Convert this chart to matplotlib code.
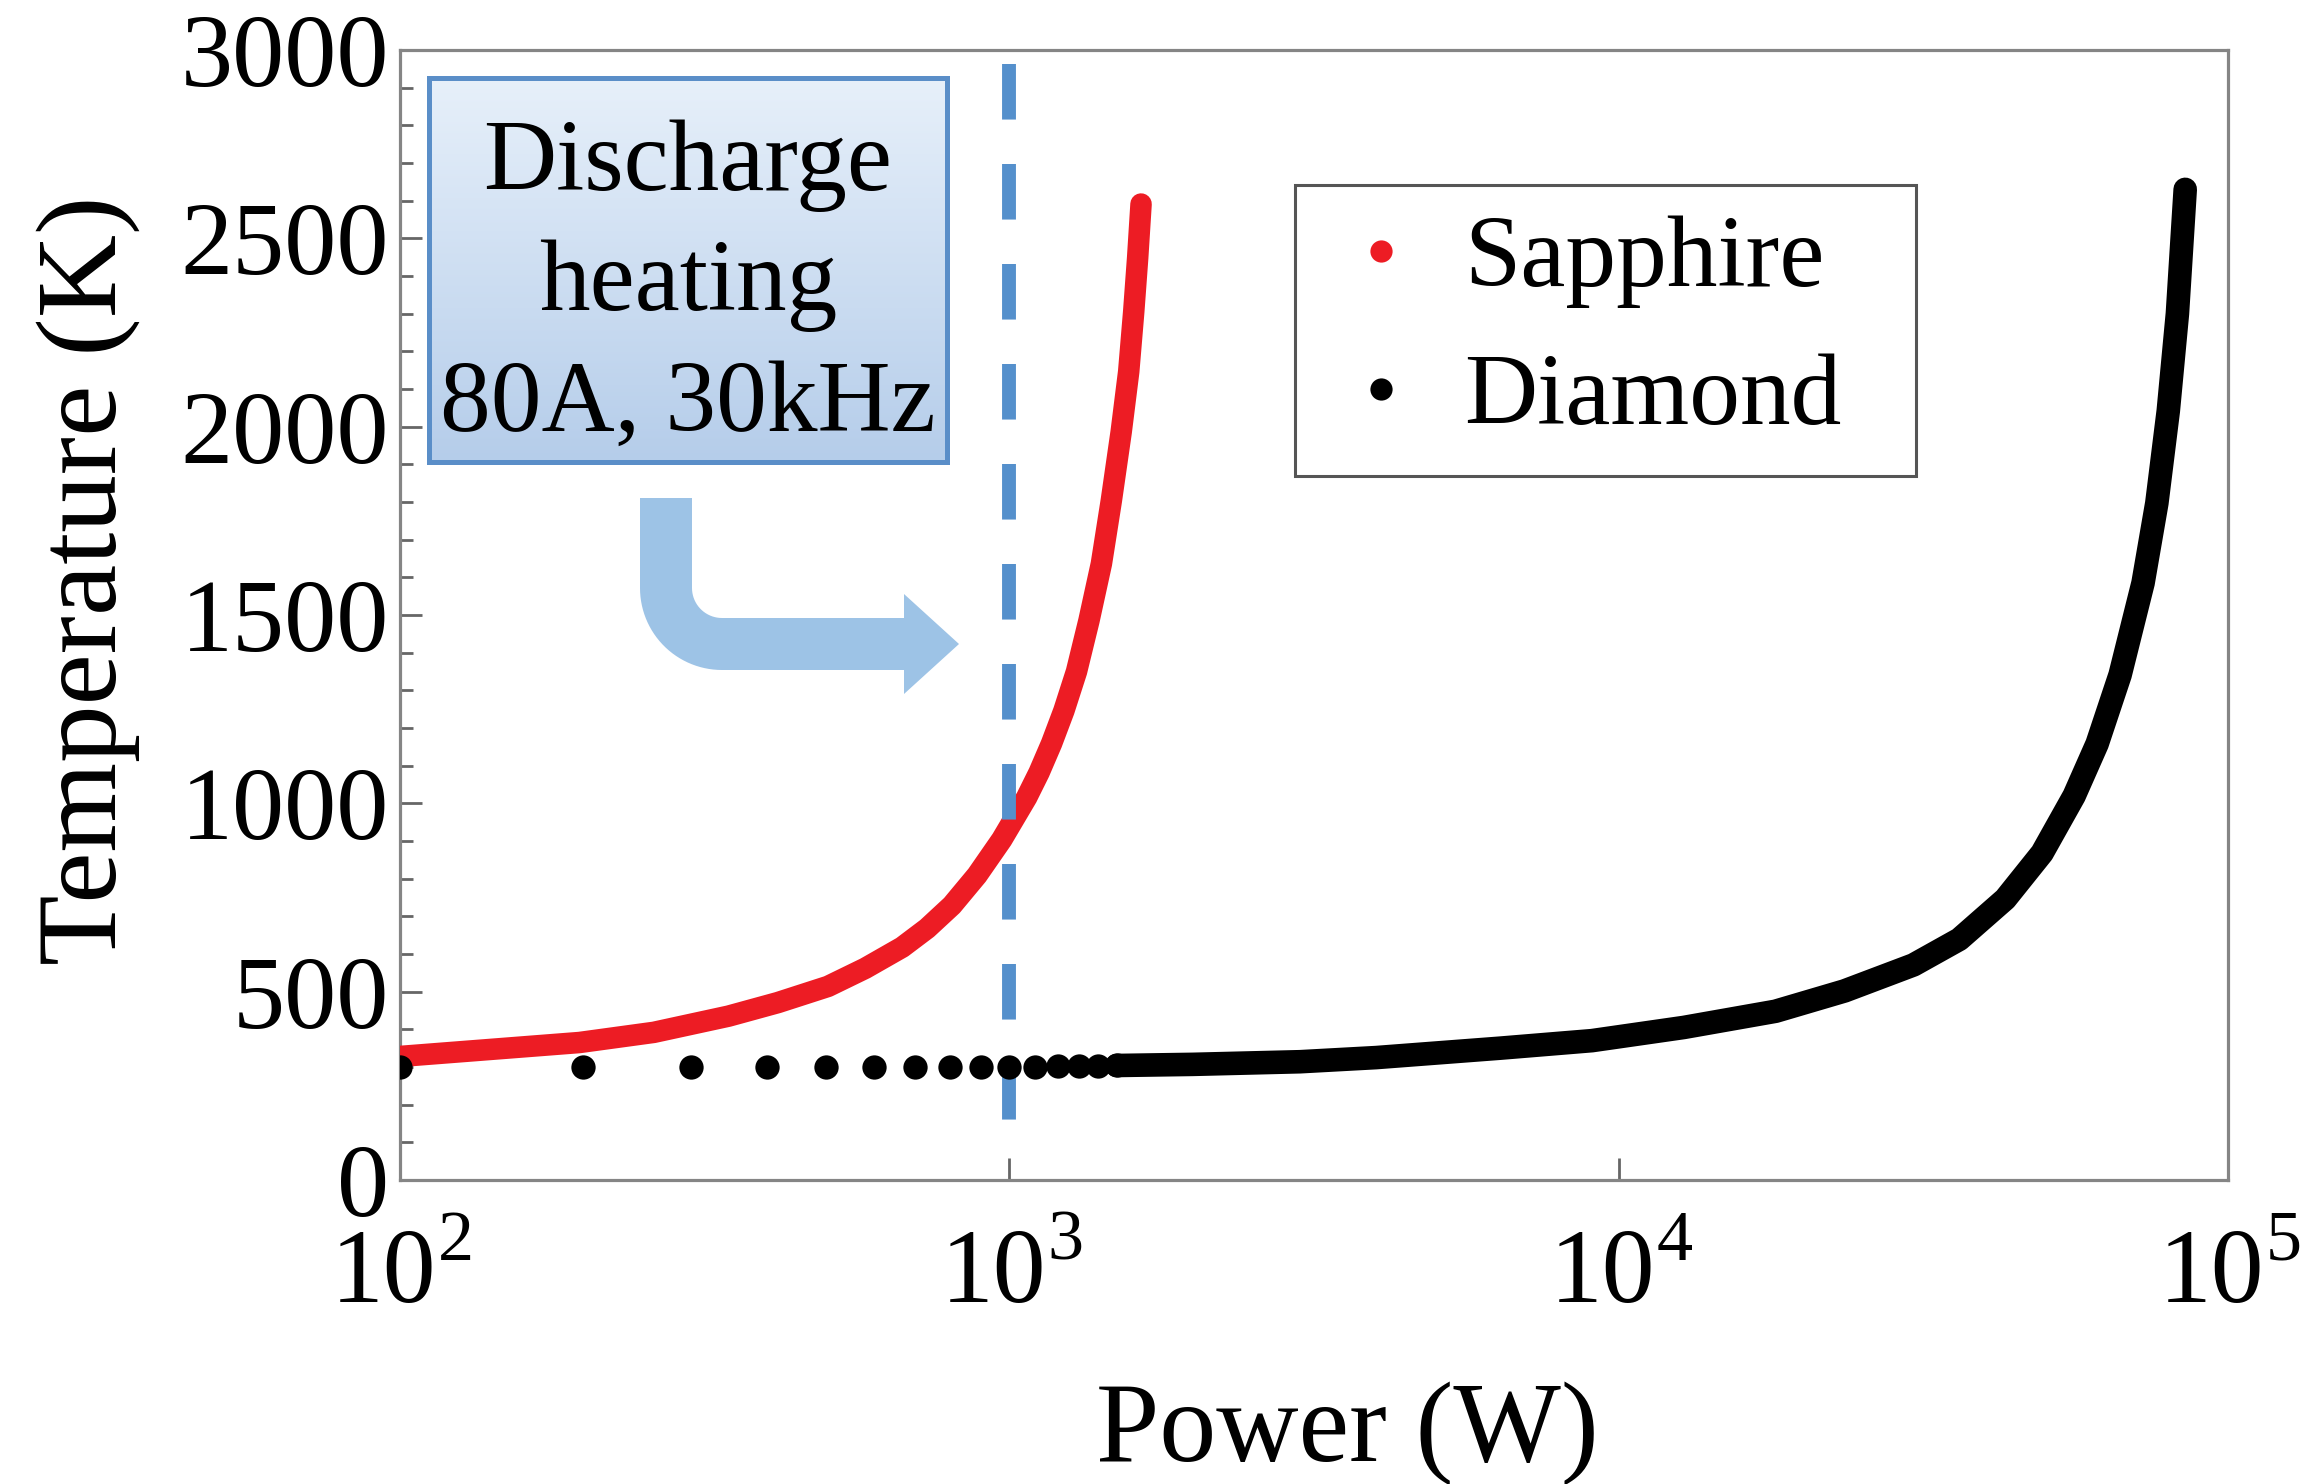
import numpy as np
import matplotlib
matplotlib.use('Agg')
import matplotlib.pyplot as plt
from matplotlib.lines import Line2D
from matplotlib.patches import PathPatch
from matplotlib.path import Path
from matplotlib.colors import LinearSegmentedColormap
from matplotlib.ticker import MultipleLocator, NullLocator, FixedLocator

plt.rcParams['font.family'] = ['Liberation Serif', 'DejaVu Serif']

# ---------------- data ----------------
sapphire_power = [100, 197, 261, 346, 417, 504, 580, 667, 733, 805, 885, 972, 1068,
                  1119, 1173, 1229, 1289, 1351, 1416, 1470, 1526, 1570, 1600, 1624, 1645]
sapphire_temp = [328, 365, 392, 435, 471, 514, 562, 618, 668, 729, 809, 904, 1016,
                 1082, 1159, 1246, 1350, 1485, 1636, 1803, 1986, 2146, 2305, 2448, 2591]

diamond_dot_power = [100, 200, 300, 400, 500, 600, 700, 800, 900, 1000,
                     1100, 1200, 1300, 1400, 1500]
diamond_dot_temp = [300, 300, 300, 300, 300, 300, 300, 300, 300, 300,
                    301, 302, 302, 303, 304]

diamond_line_power = [1500, 2000, 3000, 4000, 6390, 9040, 12790, 18090, 23480, 30460,
                      36230, 43100, 49530, 55910, 60980, 66510, 72540, 76420, 79800,
                      82600, 85070]
diamond_line_temp = [304, 307, 314, 325, 350, 370, 405, 448, 502, 571,
                     639, 746, 868, 1020, 1158, 1341, 1585, 1797, 2042,
                     2300, 2630]

discharge_power = 1000
series_labels = ['Sapphire', 'Diamond']
box_lines = ['Discharge', 'heating', '80A, 30kHz']
y_ticks = [0, 500, 1000, 1500, 2000, 2500, 3000]
x_ticks = [100, 1000, 10000, 100000]
x_tick_exponents = ['2', '3', '4', '5']

# ---------------- figure ----------------
W, H = 2320, 1484
fig = plt.figure(figsize=(W / 100, H / 100), dpi=100)
ax = fig.add_axes([400 / W, 1 - 1180 / H, 1828 / W, 1130 / H])

RED = '#ed1c24'
BLUE_DASH = '#5590cc'

ax.plot(sapphire_power, sapphire_temp, color=RED, lw=15.5, solid_capstyle='round',
        solid_joinstyle='round', zorder=3)
ax.axvline(discharge_power, ymin=0.988, ymax=0.038, color=BLUE_DASH, lw=10,
           dashes=(4.0, 3.2), dash_capstyle='butt', zorder=4)
ax.plot(diamond_dot_power, diamond_dot_temp, 'o', ms=17.5, color='black',
        mec='none', zorder=5)
ax.plot(diamond_line_power, diamond_line_temp, color='black', lw=17,
        solid_capstyle='round', solid_joinstyle='round', zorder=5)

ax.set_xscale('log')
ax.set_xlim(100, 1e5)
ax.set_ylim(0, 3000)
ax.set_yticks(y_ticks)
ax.yaxis.set_minor_locator(MultipleLocator(100))
ax.xaxis.set_major_locator(FixedLocator(x_ticks))
ax.xaxis.set_minor_locator(NullLocator())

for s in ax.spines.values():
    s.set_color('#858585')
    s.set_linewidth(2.3)

ax.tick_params(axis='y', which='major', direction='in', length=16, width=2,
               color='#666666', labelsize=75, pad=8)
ax.tick_params(axis='y', which='minor', direction='in', length=9, width=2,
               color='#666666')
ax.tick_params(axis='x', which='major', direction='in', length=16, width=2,
               color='#666666', labelbottom=False)

# x tick labels: "10" with a raised exponent
for p, e in zip(x_ticks, x_tick_exponents):
    ax.annotate('10', xy=(p, 0), xycoords=('data', 'axes fraction'),
                xytext=(-16, -122), textcoords='offset pixels', ha='center',
                va='baseline', fontsize=76, annotation_clip=False)
    ax.annotate(e, xy=(p, 0), xycoords=('data', 'axes fraction'),
                xytext=(38, -80), textcoords='offset pixels', ha='left',
                va='baseline', fontsize=52, annotation_clip=False)

ax.set_xlabel('Power (W)', fontsize=82)
ax.set_ylabel('Temperature (K)', fontsize=83)
ax.xaxis.set_label_coords(0.518, -0.178)
ax.yaxis.set_label_coords(-0.142, 0.531)

# legend
handles = [Line2D([], [], ls='none', marker='o', ms=16, color=RED, mec='none'),
           Line2D([], [], ls='none', marker='o', ms=16, color='black', mec='none')]
leg = ax.legend(handles, series_labels, loc='upper left',
                bbox_to_anchor=(0.4896, 0.8805 - 0.2513, 0.3397, 0.2513),
                mode='expand', borderaxespad=0, fontsize=73, frameon=True,
                fancybox=False, framealpha=1, edgecolor='#555555',
                borderpad=0.3, handlelength=1.1, handletextpad=0.27,
                labelspacing=0.44)
leg.get_frame().set_linewidth(2.2)

# ---------------- annotation box with gradient ----------------
bax = fig.add_axes([429 / W, 1 - 462 / H, 518 / W, 384 / H], zorder=2)
cmap = LinearSegmentedColormap.from_list('bg', ['#b5cdea', '#e7f0fa'])
grad = np.linspace(0, 1, 256).reshape(-1, 1)
bax.imshow(grad, aspect='auto', cmap=cmap, origin='lower', extent=[0, 1, 0, 1])
bax.set_xticks([])
bax.set_yticks([])
for s in bax.spines.values():
    s.set_color('#5a8ec8')
    s.set_linewidth(3.6)

baselines = [190, 310, 431]
for txt, yb in zip(box_lines, baselines):
    fig.text(688 / W, 1 - yb / H, txt, ha='center', va='baseline', fontsize=73,
             zorder=10)

# ---------------- bent arrow ----------------
def P(x, y):
    return (x / W, 1 - y / H)

verts = [P(640, 498), P(692, 498), P(692, 588)]
cx, cy, ri, ro = 722, 588, 30, 82
for t in np.linspace(np.pi, np.pi / 2, 20)[1:]:
    verts.append(P(cx + ri * np.cos(t), cy + ri * np.sin(t)))
verts += [P(904, 618), P(904, 594), P(959, 644), P(904, 694), P(904, 670),
          P(722, 670)]
for t in np.linspace(np.pi / 2, np.pi, 30)[1:]:
    verts.append(P(cx + ro * np.cos(t), cy + ro * np.sin(t)))
verts.append(P(640, 498))
codes = [Path.MOVETO] + [Path.LINETO] * (len(verts) - 2) + [Path.CLOSEPOLY]
arrow = PathPatch(Path(verts, codes), transform=fig.transFigure,
                  facecolor='#9dc3e6', edgecolor='none', zorder=5)
fig.add_artist(arrow)

fig.savefig('out.png', dpi=100)
